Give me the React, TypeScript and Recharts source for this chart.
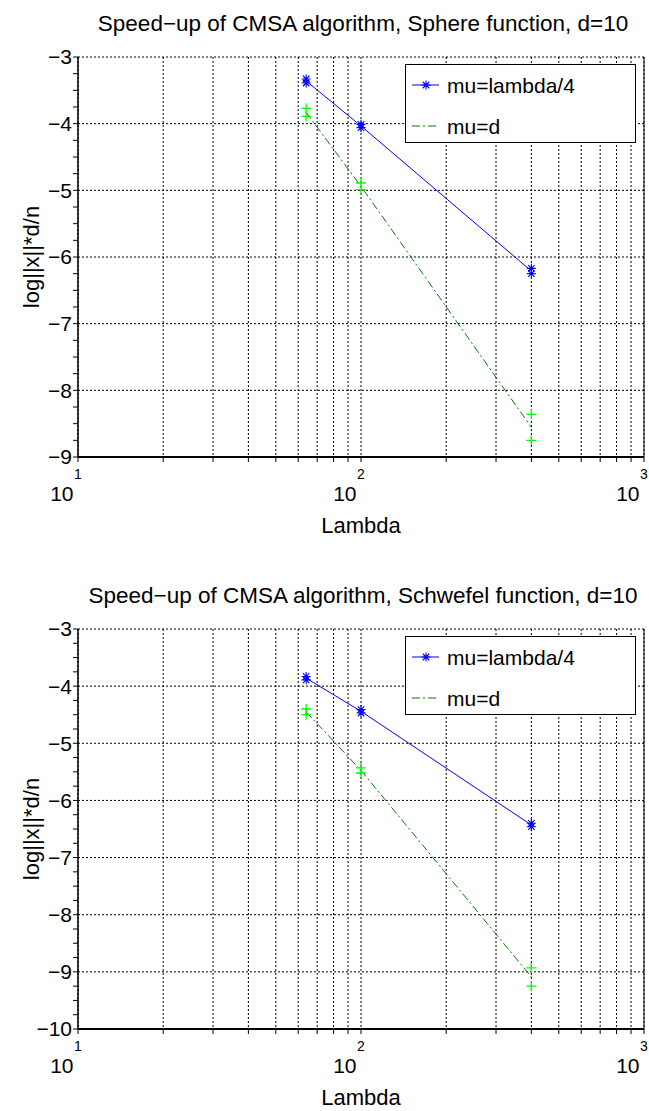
import React from 'react';
import {
    ComposedChart,
    Line,
    Scatter,
    XAxis,
    YAxis,
    CartesianGrid,
    Legend,
    ReferenceLine,
} from 'recharts';

// population sizes (lambda) where the runs were made
const lambdas = [64, 100, 400];

// Sphere function, two runs per lambda
const sphereQuarterHi = [-3.33, -4.01, -6.17];
const sphereQuarterLo = [-3.39, -4.06, -6.25];
const sphereDHi = [-3.77, -4.89, -8.36];
const sphereDLo = [-3.89, -4.99, -8.75];

// Schwefel function, two runs per lambda
const schwefelQuarterHi = [-3.83, -4.41, -6.4];
const schwefelQuarterLo = [-3.89, -4.47, -6.46];
const schwefelDHi = [-4.4, -5.43, -8.93];
const schwefelDLo = [-4.5, -5.52, -9.25];

const xTicks = [10, 20, 30, 40, 50, 60, 70, 80, 90, 100, 200, 300, 400, 500, 600, 700, 800, 900, 1000];
const xMajor = [10, 100, 1000];
const sphereYTicks = [-9, -8, -7, -6, -5, -4, -3];
const schwefelYTicks = [-10, -9, -8, -7, -6, -5, -4, -3];

const FONT = '"Liberation Sans", Arial, Helvetica, sans-serif';
const BLUE = '#0000ff';
const DARK_GREEN = '#008000';
const LIGHT_GREEN = '#00ff00';
const DASH_DOT = '8 3 2 3';

const buildRows = (qHi: number[], qLo: number[], dHi: number[], dLo: number[]) =>
    lambdas.map((lambda, i) => ({
        lambda,
        qHi: qHi[i],
        qLo: qLo[i],
        qMean: (qHi[i] + qLo[i]) / 2,
        dHi: dHi[i],
        dLo: dLo[i],
        dMean: (dHi[i] + dLo[i]) / 2,
    }));

const starPath = (cx: number, cy: number, r: number) => {
    const d = r * 0.72;
    return `M${cx - r},${cy}L${cx + r},${cy}M${cx},${cy - r}L${cx},${cy + r}` +
        `M${cx - d},${cy - d}L${cx + d},${cy + d}M${cx - d},${cy + d}L${cx + d},${cy - d}`;
};

const StarShape = (props: any) => {
    const { cx, cy } = props;
    if (cx == null || cy == null) return <g />;
    return <path d={starPath(cx, cy, 4.5)} stroke={BLUE} strokeWidth={1.1} fill="none" />;
};

const PlusShape = (props: any) => {
    const { cx, cy } = props;
    if (cx == null || cy == null) return <g />;
    const r = 5;
    return (
        <path
            d={`M${cx - r},${cy}L${cx + r},${cy}M${cx},${cy - r}L${cx},${cy + r}`}
            stroke={LIGHT_GREEN}
            strokeWidth={1.3}
            fill="none"
        />
    );
};

const XTick = (props: any) => {
    const { x, y, payload } = props;
    const v = payload?.value;
    if (!xMajor.includes(v)) return <g />;
    const exp = Math.round(Math.log10(v));
    return (
        <g fontFamily={FONT} fill="#000">
            <text x={x} y={y + 17} textAnchor="middle" fontSize={14}>{exp}</text>
            <text x={x - 4.5} y={y + 39} textAnchor="end" fontSize={21}>10</text>
        </g>
    );
};

const LegendBox = () => (
    <div style={{ width: 231, height: 79, border: '1px solid #000', background: '#fff', boxSizing: 'border-box' }}>
        <svg width={229} height={77} style={{ display: 'block' }}>
            <line x1={6} x2={33} y1={20} y2={20} stroke={BLUE} strokeWidth={1} />
            <path d={starPath(20, 20, 4.5)} stroke={BLUE} strokeWidth={1.1} fill="none" />
            <text x={41} y={28} fontFamily={FONT} fontSize={21} fill="#000">mu=lambda/4</text>
            <line x1={6} x2={33} y1={61} y2={61} stroke={DARK_GREEN} strokeWidth={1} strokeDasharray={DASH_DOT} />
            <text x={41} y={69} fontFamily={FONT} fontSize={21} fill="#000">mu=d</text>
        </svg>
    </div>
);

interface SpeedupChartProps {
    title: string;
    rows: any[];
    yTicks: number[];
    top: number;
    height: number;
}

function SpeedupChart({ title, rows, yTicks, top, height }: SpeedupChartProps) {
    const yMin = yTicks[0];
    const yMax = yTicks[yTicks.length - 1];
    // quarter-step minor ticks on the y axis
    const yAllTicks: number[] = [];
    for (let v = yMin; v <= yMax + 1e-9; v += 0.25) yAllTicks.push(Number(v.toFixed(2)));

    return (
        <div style={{ position: 'absolute', left: 0, top, width: 649, height }}>
            <ComposedChart
                width={649}
                height={height}
                data={rows}
                margin={{ top: 57, right: 5, bottom: height - 57 - 400 - 80, left: 18 }}
            >
                <CartesianGrid
                    horizontalValues={yTicks}
                    verticalValues={xTicks}
                    stroke="#000"
                    strokeDasharray="2 2"
                    strokeWidth={1}
                />
                <XAxis
                    dataKey="lambda"
                    type="number"
                    scale="log"
                    domain={[10, 1000]}
                    ticks={xTicks}
                    interval={0}
                    allowDataOverflow
                    height={80}
                    tickSize={5}
                    tickMargin={0}
                    tickLine={{ stroke: '#000' }}
                    axisLine={{ stroke: '#000', strokeWidth: 2 }}
                    tick={<XTick />}
                    label={{
                        content: (p: any) => {
                            const vb = p.viewBox || { x: 78, y: 457, width: 566 };
                            return (
                                <text x={vb.x + vb.width / 2} y={vb.y + 76} textAnchor="middle" fontFamily={FONT} fontSize={22} fill="#000">
                                    Lambda
                                </text>
                            );
                        },
                    }}
                />
                <YAxis
                    type="number"
                    domain={[yMin, yMax]}
                    ticks={yAllTicks}
                    interval={0}
                    allowDataOverflow
                    width={60}
                    tickSize={5}
                    tickMargin={1}
                    tickLine={{ stroke: '#000' }}
                    axisLine={{ stroke: '#000', strokeWidth: 1.5 }}
                    tick={{ fill: '#000', fontSize: 21, fontFamily: FONT }}
                    tickFormatter={(v: number) => (Number.isInteger(v) ? `\u2212${Math.abs(v)}` : '')}
                    label={{
                        content: (p: any) => {
                            const vb = p.viewBox || { x: 18, y: 57, width: 60, height: 400 };
                            const cx = vb.x + 21;
                            const cy = vb.y + vb.height / 2;
                            return (
                                <g fontFamily={FONT} fill="#000">
                                    <text x={cx} y={cy} textAnchor="middle" fontSize={22} transform={`rotate(-90 ${cx} ${cy})`}>
                                        log||x||*d/n
                                    </text>
                                    <text x={363} y={vb.y - 26} textAnchor="middle" fontSize={22.5}>
                                        {title}
                                    </text>
                                </g>
                            );
                        },
                    }}
                />
                <ReferenceLine x={1000} stroke="#000" strokeWidth={1} />
                <Legend
                    layout="horizontal"
                    verticalAlign="middle"
                    align="center"
                    wrapperStyle={{ position: 'absolute', left: 405, top: 64, width: 231, height: 79, margin: 0 }}
                    content={() => <LegendBox />}
                />
                <Line
                    dataKey="qMean"
                    stroke={BLUE}
                    strokeWidth={1}
                    dot={false}
                    legendType="none"
                    isAnimationActive={false}
                />
                <Line
                    dataKey="dMean"
                    stroke={DARK_GREEN}
                    strokeWidth={1}
                    strokeDasharray={DASH_DOT}
                    dot={false}
                    legendType="none"
                    isAnimationActive={false}
                />
                <Scatter dataKey="dHi" shape={<PlusShape />} legendType="none" isAnimationActive={false} />
                <Scatter dataKey="dLo" shape={<PlusShape />} legendType="none" isAnimationActive={false} />
                <Scatter dataKey="qHi" shape={<StarShape />} legendType="none" isAnimationActive={false} />
                <Scatter dataKey="qLo" shape={<StarShape />} legendType="none" isAnimationActive={false} />
            </ComposedChart>
        </div>
    );
}

export default function App() {
    const sphereRows = buildRows(sphereQuarterHi, sphereQuarterLo, sphereDHi, sphereDLo);
    const schwefelRows = buildRows(schwefelQuarterHi, schwefelQuarterLo, schwefelDHi, schwefelDLo);
    return (
        <div style={{ position: 'absolute', left: 0, top: 0, width: 649, height: 1111, background: '#fff' }}>
            <SpeedupChart
                title={'Speed\u2212up of CMSA algorithm, Sphere function, d=10'}
                rows={sphereRows}
                yTicks={sphereYTicks}
                top={0}
                height={560}
            />
            <SpeedupChart
                title={'Speed\u2212up of CMSA algorithm, Schwefel function, d=10'}
                rows={schwefelRows}
                yTicks={schwefelYTicks}
                top={572}
                height={539}
            />
        </div>
    );
}
